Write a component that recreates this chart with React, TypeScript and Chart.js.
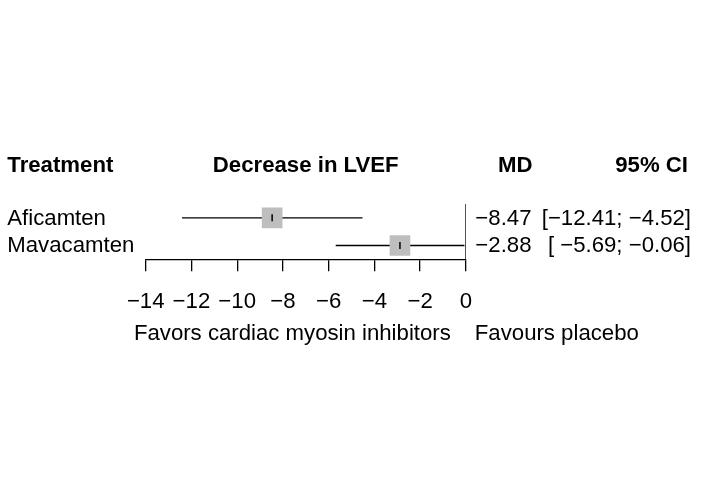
import React, { useEffect, useRef } from "react";
import { Chart, registerables } from "chart.js";

Chart.register(...registerables);

const studies = ["Aficamten", "Mavacamten"];
const meanDiff = [-8.47, -2.88];
const ciLower = [-12.41, -5.69];
const ciUpper = [-4.52, -0.06];
const xTicks = [-14, -12, -10, -8, -6, -4, -2, 0];
const headers = { study: "Treatment", plot: "Decrease in LVEF", md: "MD", ci: "95% CI" };
const labelLeft = "Favors cardiac myosin inhibitors";
const labelRight = "Favours placebo";

const FONT = "'Liberation Sans', Arial, Helvetica, sans-serif";
const FS = 22.2;

const fmt = (v: number) => (v < 0 ? "\u2212" : "") + Math.abs(v).toFixed(2);
const padL = (s: string, n: number) => (s.length < n ? " ".repeat(n - s.length) + s : s);

export default function App() {
  const ref = useRef<HTMLCanvasElement | null>(null);

  useEffect(() => {
    if (!ref.current) return;
    const textPlugin = {
      id: "forestText",
      afterDraw(chart: any) {
        const ctx = chart.ctx as CanvasRenderingContext2D;
        const xs = chart.scales.x;
        const ys = chart.scales.y;
        const area = chart.chartArea;
        const y0 = ys.getPixelForValue(0);
        ctx.save();
        ctx.fillStyle = "#000";
        ctx.textBaseline = "alphabetic";
        // headers
        ctx.font = `bold ${FS}px ${FONT}`;
        const hy = y0 - 45.7;
        ctx.textAlign = "left";
        ctx.fillText(headers.study, 7.3, hy);
        ctx.textAlign = "center";
        ctx.fillText(headers.plot, (area.left + area.right) / 2, hy);
        ctx.textAlign = "right";
        ctx.fillText(headers.md, 532.5, hy);
        ctx.fillText(headers.ci, 688, hy);
        // rows
        ctx.font = `${FS}px ${FONT}`;
        studies.forEach((s, i) => {
          const y = ys.getPixelForValue(i) + 6.8;
          ctx.textAlign = "left";
          ctx.fillText(s, 7.3, y);
          ctx.textAlign = "right";
          ctx.fillText(fmt(meanDiff[i]), 531.5, y);
          const ci = "[" + padL(fmt(ciLower[i]), 6) + "; " + fmt(ciUpper[i]) + "]";
          ctx.fillText(ci, 691, y);
        });
        // favour labels
        const zx = xs.getPixelForValue(0);
        const ly = 339.5;
        ctx.textAlign = "right";
        ctx.fillText(labelLeft, zx - 15, ly);
        ctx.textAlign = "left";
        ctx.fillText(labelRight, zx + 9, ly);
        ctx.restore();
      },
    };

    const ciDatasets = studies.map((s, i) => ({
      type: "line" as const,
      label: s + " CI",
      data: [
        { x: ciLower[i], y: i },
        { x: ciUpper[i], y: i },
      ],
      borderColor: "#000",
      borderWidth: 1.3,
      pointRadius: 0,
      order: 2,
    }));

    const chart = new Chart(ref.current, {
      type: "scatter",
      data: {
        datasets: [
          {
            type: "line",
            label: "null",
            data: [
              { x: 0, y: -0.5 },
              { x: 0, y: 1.5 },
            ],
            borderColor: "#000",
            borderWidth: 1.3,
            pointRadius: 0,
            order: 3,
          } as any,
          ...ciDatasets,
          {
            type: "scatter",
            label: "MD",
            data: studies.map((_, i) => ({ x: meanDiff[i], y: i })),
            pointStyle: "rect",
            pointRadius: 14.6,
            backgroundColor: "#bebebe",
            borderWidth: 0,
            order: 1,
          },
          {
            type: "scatter",
            label: "center",
            data: studies.map((_, i) => ({ x: meanDiff[i], y: i })),
            pointStyle: "line",
            rotation: 90,
            pointRadius: 3.5,
            borderColor: "#000",
            borderWidth: 1.5,
            order: 0,
          },
        ],
      },
      options: {
        animation: false,
        responsive: false,
        events: [],
        layout: { padding: { left: 145.7, right: 706 - 465.8, top: 204, bottom: 497 - 259.3 - 60 } },
        plugins: { legend: { display: false }, tooltip: { enabled: false } },
        scales: {
          x: {
            type: "linear",
            min: -14,
            max: 0,
            afterFit: (scale: any) => {
              scale.height = 60;
            },
            afterBuildTicks: (scale: any) => {
              scale.ticks = xTicks.map((v) => ({ value: v }));
            },
            ticks: {
              autoSkip: false,
              maxRotation: 0,
              padding: 17,
              color: "#000",
              font: { family: FONT, size: FS },
              callback: (v: any) => (Number(v) < 0 ? "\u2212" + Math.abs(Number(v)) : String(v)),
            },
            grid: { drawOnChartArea: false, drawTicks: true, tickLength: 12, color: "#000", lineWidth: 1.3 },
            border: { display: true, color: "#000", width: 1.3 },
          },
          y: { type: "linear", min: -0.5, max: 1.5, reverse: true, display: false },
        },
      },
      plugins: [textPlugin],
    } as any);
    return () => chart.destroy();
  }, []);

  return (
    <div style={{ position: "fixed", left: 0, top: 0, width: 706, height: 497, background: "#fff" }}>
      <canvas ref={ref} width={706} height={497} style={{ width: 706, height: 497, display: "block" }} />
    </div>
  );
}
